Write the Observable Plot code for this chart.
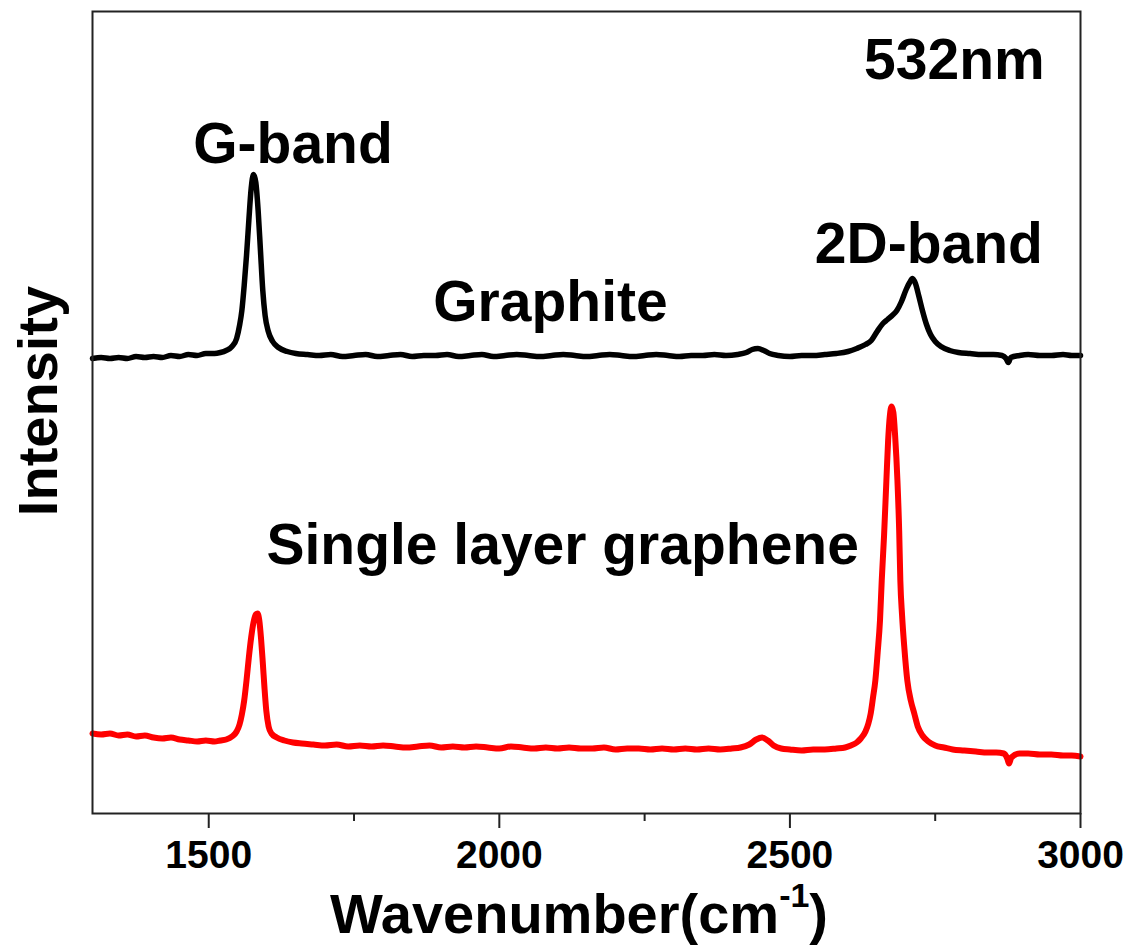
<!DOCTYPE html>
<html><head><meta charset="utf-8">
<script src="https://cdn.jsdelivr.net/npm/d3@7"></script>
<script src="https://cdn.jsdelivr.net/npm/@observablehq/plot@0.6"></script>
<style>html,body{margin:0;padding:0;background:#fff;}</style>
</head><body><div id="chart"></div>
<script>
// [wavenumber (cm^-1), intensity (a.u., offset spectra)]
const graphiteSpectrum = [
[1300,455],[1315,456],[1330,455],[1345,456],[1360,455],[1375,457],[1390,456],[1405,457],[1420,456],[1435,458],
[1450,457],[1465,459],[1480,458],[1495,460],[1510,460],[1520,461],[1530,463],[1540,467],[1548,475],[1553,488],
[1557,503],[1561,528],[1565,558],[1569,593],[1573,625],[1577,639],[1581,631],[1585,603],[1589,563],[1593,523],
[1597,498],[1602,483],[1610,472],[1620,466],[1635,462],[1650,460],[1670,459],[1690,458],[1710,459],[1730,457],
[1750,458],[1770,459],[1790,457],[1810,458],[1830,459],[1850,457],[1870,458],[1890,458],[1910,459],[1930,457],
[1950,458],[1970,459],[1990,457],[2010,458],[2030,459],[2050,458],[2070,457],[2090,458],[2110,459],[2130,458],
[2150,457],[2170,458],[2190,459],[2210,458],[2230,457],[2250,458],[2270,459],[2290,458],[2310,457],[2330,458],
[2350,458],[2370,459],[2390,458],[2410,459],[2425,461],[2435,464],[2445,465],[2455,463],[2465,460],[2480,458],
[2500,457],[2520,458],[2540,458],[2560,459],[2580,460],[2600,462],[2615,465],[2630,469],[2640,473],[2650,482],
[2660,490],[2668,494],[2676,498],[2684,503],[2692,512],[2700,524],[2706,531],[2711,535],[2716,530],[2722,517],
[2728,503],[2735,489],[2742,479],[2750,472],[2760,467],[2775,463],[2790,461],[2810,460],[2830,459],[2850,459],
[2865,458],[2872,455],[2876,451],[2880,456],[2895,458],[2910,459],[2930,458],[2950,458],[2970,459],[2985,458],
[3000,458]
];
const grapheneSpectrum = [
[1300,80],[1315,79],[1330,80],[1345,78],[1360,79],[1375,77],[1390,78],[1405,76],[1420,75],[1435,76],
[1450,74],[1465,73],[1480,72],[1495,73],[1510,72],[1520,73],[1530,74],[1540,77],[1548,82],[1553,89],
[1557,99],[1561,113],[1565,133],[1569,156],[1573,176],[1577,191],[1581,199],[1584,200],[1587,193],[1590,175],
[1593,151],[1596,125],[1599,103],[1603,87],[1608,80],[1617,76],[1630,73],[1645,71],[1660,70],[1680,69],
[1700,68],[1720,69],[1740,67],[1760,68],[1780,67],[1800,68],[1820,67],[1840,66],[1860,67],[1880,68],
[1900,66],[1920,67],[1940,66],[1960,67],[1980,66],[2000,65],[2020,67],[2040,66],[2060,65],[2080,66],
[2100,65],[2120,66],[2140,65],[2160,65],[2180,66],[2200,64],[2220,65],[2240,65],[2260,64],[2280,65],
[2300,64],[2320,65],[2340,64],[2360,65],[2380,64],[2400,65],[2415,66],[2430,69],[2442,74],[2452,76],
[2462,73],[2472,68],[2485,65],[2500,64],[2520,63],[2540,64],[2560,64],[2580,65],[2595,66],[2605,68],
[2615,71],[2622,75],[2630,82],[2635,90],[2639,100],[2643,116],[2647,133],[2651,161],[2655,193],[2658,233],
[2662,278],[2666,333],[2669,373],[2672,398],[2675,407],[2678,401],[2681,378],[2685,333],[2688,283],[2690,233],
[2693,198],[2697,165],[2702,133],[2708,113],[2714,100],[2720,87],[2728,78],[2738,72],[2750,68],[2765,66],
[2780,64],[2800,63],[2820,62],[2840,61],[2855,61],[2868,60],[2874,55],[2877,50],[2881,56],[2895,60],
[2910,60],[2930,59],[2950,59],[2970,58],[2985,58],[3000,57]
];
const xTicks = [1500, 2000, 2500, 3000];
const xMinorTicks = [1750, 2250, 2750];
const xDomain = [1300, 3000];
const yDomain = [0, 802];
// annotation text with anchor in data coordinates [wavenumber, intensity]
const annotations = [
  ["532nm", 2783, 735],
  ["G-band", 1645, 651],
  ["Graphite", 2088, 493],
  ["2D-band", 2739, 551],
  ["Single layer graphene", 2109, 250]
];
const xTitle = "Wavenumber(cm";
const xTitleSup = "-1";
const yTitle = "Intensity";

const FONT = "'Liberation Sans', Arial, Helvetica, sans-serif";
const W = 1130, H = 947;
const mL = 92, mR = 50, mT = 11, mB = 134;

const graphite = graphiteSpectrum.map(([w, v]) => ({w, v}));
const graphene = grapheneSpectrum.map(([w, v]) => ({w, v}));
const labels = annotations.map(([t, w, v]) => ({t, w, v}));

const svg = Plot.plot({
  width: W, height: H,
  marginLeft: mL, marginRight: mR, marginTop: mT, marginBottom: mB,
  style: {fontFamily: FONT, fontWeight: "bold", background: "#fff", color: "#000"},
  x: {domain: xDomain},
  y: {domain: yDomain, axis: null},
  marks: [
    Plot.line(graphite, {x: "w", y: "v", stroke: "#000", strokeWidth: 5.5, curve: "monotone-x"}),
    Plot.line(graphene, {x: "w", y: "v", stroke: "#ff0000", strokeWidth: 6, curve: "monotone-x"}),
    Plot.frame({stroke: "#222", strokeWidth: 2}),
    Plot.axisX({ticks: xTicks, tickSize: 15, tickPadding: 12, tickFormat: d => String(d),
      fontSize: 39, fontWeight: "bold", stroke: "#222", strokeWidth: 2, fill: "#000", label: null}),
    Plot.axisX({ticks: xMinorTicks, tickSize: 8, tickFormat: () => "",
      stroke: "#222", strokeWidth: 2, label: null}),
    Plot.text(labels, {x: "w", y: "v", text: "t", fontSize: 57, fontWeight: "bold",
      fill: "#000", textAnchor: "middle", lineAnchor: "bottom"})
  ]
});

const s = d3.select(svg);
// x-axis title with superscript
const xt = s.append("text")
  .attr("x", 579).attr("y", 933)
  .attr("text-anchor", "middle")
  .attr("font-family", FONT).attr("font-weight", "bold")
  .attr("font-size", 56).attr("fill", "#000");
xt.append("tspan").text(xTitle);
xt.append("tspan").attr("font-size", 34).attr("dy", -26).text(xTitleSup);
xt.append("tspan").attr("dy", 26).text(")");
// y-axis title
s.append("text")
  .attr("transform", "translate(57,401) rotate(-90)")
  .attr("text-anchor", "middle")
  .attr("font-family", FONT).attr("font-weight", "bold")
  .attr("font-size", 56).attr("fill", "#000")
  .text(yTitle);

document.getElementById("chart").appendChild(svg);
</script>
</body></html>
